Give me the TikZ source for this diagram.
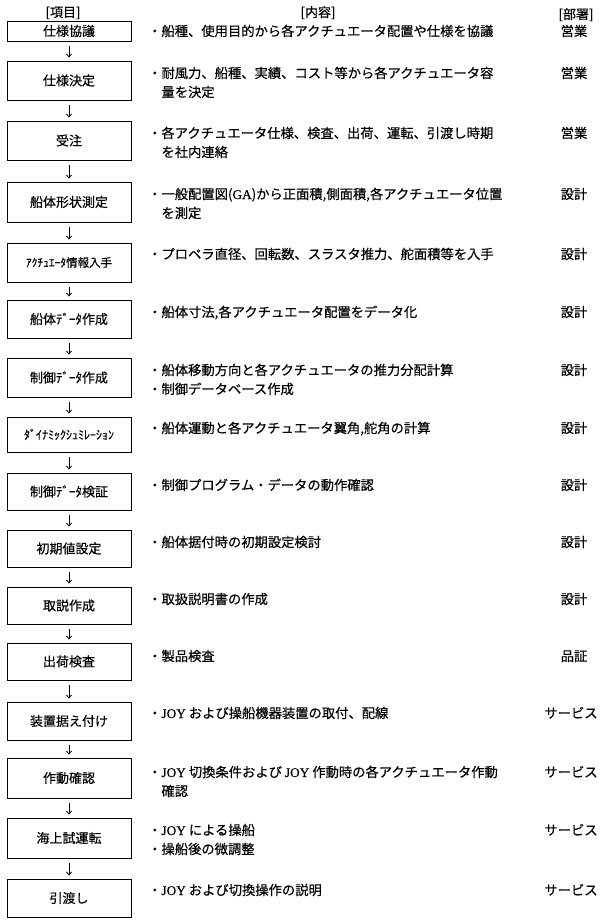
\documentclass[tikz,border=0pt]{standalone}
\usepackage{fontspec}
\setmainfont{Noto Sans CJK JP}[FakeBold=0.4]
\newfontfamily\lat{Liberation Serif}[FakeBold=0.4]
\usetikzlibrary{arrows.meta}
\newcommand{\itm}[1]{\begin{tabular}[t]{@{}l@{}l@{}}#1\end{tabular}}
\begin{document}
\begin{tikzpicture}[x=1pt,y=-1pt,
  box/.style={draw, line width=0.9pt, minimum width=124pt, inner sep=0pt, font=\fontsize{13}{15}\selectfont},
  txt/.style={anchor=base west, inner sep=0pt, font=\fontsize{13.3}{19}\selectfont},
  dept/.style={anchor=base, inner sep=0pt, font=\fontsize{13.3}{19}\selectfont},
  head/.style={anchor=base, inner sep=0pt, font=\fontsize{13}{15}\selectfont},
  flow/.style={line width=0.8pt, -{Straight Barb[length=3pt,width=5pt]}, shorten <=5pt, shorten >=3pt}]
\useasboundingbox (0,0) rectangle (600,921);

% headers
\node[head] (h1) at (63,17) {[項目]};
\node[head] (h2) at (318,17) {[内容]};
\node[head] (h3) at (576,19) {[部署]};

% boxes
\node[box, minimum height=20pt] (b1) at (69,31) {仕様協議};
\node[box, minimum height=39pt] (b2) at (69,80.5) {仕様決定};
\node[box, minimum height=39pt] (b3) at (69,140.5) {受注};
\node[box, minimum height=40pt] (b4) at (69,202) {船体形状測定};
\node[box, minimum height=39pt, font=\fontsize{11.5}{14}\selectfont] (b5) at (69,262.5) {ｱｸﾁｭｴｰﾀ情報入手};
\node[box, minimum height=38pt] (b6) at (69,319) {船体ﾃﾞｰﾀ作成};
\node[box, minimum height=39pt] (b7) at (69,377.5) {制御ﾃﾞｰﾀ作成};
\node[box, minimum height=35pt, font=\fontsize{12}{14}\selectfont] (b8) at (69,434.5) {ﾀﾞｲﾅﾐｯｸｼｭﾐﾚｰｼｮﾝ};
\node[box, minimum height=37pt] (b9) at (69,491.5) {制御ﾃﾞｰﾀ検証};
\node[box, minimum height=37pt] (b10) at (69,548.5) {初期値設定};
\node[box, minimum height=37pt] (b11) at (69,605.5) {取説作成};
\node[box, minimum height=37pt] (b12) at (69,661.5) {出荷検査};
\node[box, minimum height=38pt] (b13) at (69,721) {装置据え付け};
\node[box, minimum height=40pt] (b14) at (69,778) {作動確認};
\node[box, minimum height=40pt] (b15) at (69,838) {海上試運転};
\node[box, minimum height=38pt] (b16) at (69,898) {引渡し};

% arrows
\foreach \a/\b in {b1/b2,b2/b3,b3/b4,b4/b5,b5/b6,b6/b7,b7/b8,b8/b9,b9/b10,b10/b11,b11/b12,b12/b13,b13/b14,b14/b15,b15/b16}
  \draw[flow] (\a.south) -- (\b.north);

% contents
\node[txt] (c1) at (148,36) {\itm{・&船種、使用目的から各アクチュエータ配置や仕様を協議}};
\node[txt] (c2) at (148,78) {\itm{・&耐風力、船種、実績、コスト等から各アクチュエータ容\\&量を決定}};
\node[txt] (c3) at (148,138) {\itm{・&各アクチュエータ仕様、検査、出荷、運転、引渡し時期\\&を社内連絡}};
\node[txt] (c4) at (148,199) {\itm{・&一般配置図({\lat GA})から正面積,側面積,各アクチュエータ位置\\&を測定}};
\node[txt] (c5) at (148,259) {\itm{・&プロペラ直径、回転数、スラスタ推力、舵面積等を入手}};
\node[txt] (c6) at (148,317) {\itm{・&船体寸法,各アクチュエータ配置をデータ化}};
\node[txt] (c7) at (148,375) {\itm{・&船体移動方向と各アクチュエータの推力分配計算\\・&制御データベース作成}};
\node[txt] (c8) at (148,433) {\itm{・&船体運動と各アクチュエータ翼角,舵角の計算}};
\node[txt] (c9) at (148,490) {\itm{・&制御プログラム・データの動作確認}};
\node[txt] (c10) at (148,547) {\itm{・&船体据付時の初期設定検討}};
\node[txt] (c11) at (148,604) {\itm{・&取扱説明書の作成}};
\node[txt] (c12) at (148,661) {\itm{・&製品検査}};
\node[txt] (c13) at (148,718) {\itm{・&{\lat JOY} および操船機器装置の取付、配線}};
\node[txt] (c14) at (148,777) {\itm{・&{\lat JOY} 切換条件および {\lat JOY} 作動時の各アクチュエータ作動\\&確認}};
\node[txt] (c15) at (148,835) {\itm{・&{\lat JOY} による操船\\・&操船後の微調整}};
\node[txt] (c16) at (148,895) {\itm{・&{\lat JOY} および切換操作の説明}};

% departments
\node[dept] (d1) at (574,36) {営業};
\node[dept] (d2) at (574,78) {営業};
\node[dept] (d3) at (574,138) {営業};
\node[dept] (d4) at (574,199) {設計};
\node[dept] (d5) at (574,259) {設計};
\node[dept] (d6) at (574,317) {設計};
\node[dept] (d7) at (574,375) {設計};
\node[dept] (d8) at (574,433) {設計};
\node[dept] (d9) at (574,490) {設計};
\node[dept] (d10) at (574,547) {設計};
\node[dept] (d11) at (574,604) {設計};
\node[dept] (d12) at (574,661) {品証};
\node[dept] (d13) at (571,718) {サービス};
\node[dept] (d14) at (571,777) {サービス};
\node[dept] (d15) at (571,835) {サービス};
\node[dept] (d16) at (571,895) {サービス};
\end{tikzpicture}
\end{document}
